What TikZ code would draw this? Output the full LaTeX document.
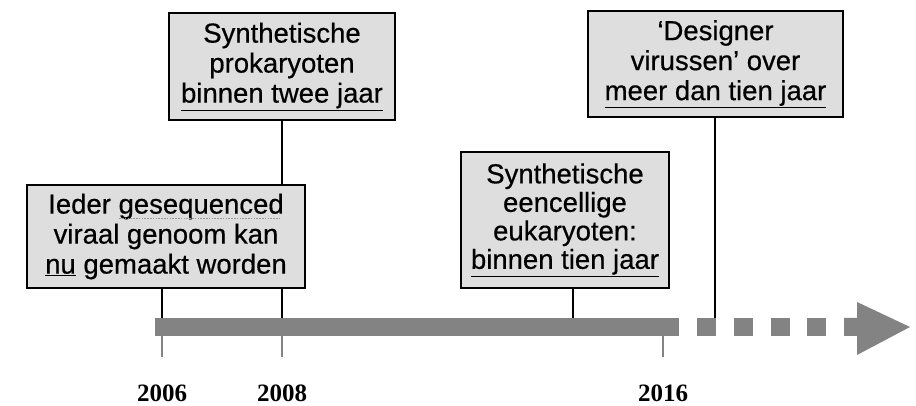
\documentclass[tikz,border=0pt]{standalone}
\usepackage{fontspec}
\setmainfont{Liberation Sans}
\newfontfamily\boxfont{Liberation Sans}[UprightFeatures={FakeBold=0.5}]
\newfontfamily\yearfont{Liberation Serif}
\definecolor{boxfill}{RGB}{222,222,222}
\definecolor{barfill}{RGB}{131,131,131}
\newsavebox\spellbox
\newcommand\spellline[1]{\sbox\spellbox{#1}\rlap{\usebox\spellbox}%
  \raisebox{-0.2em}{\textcolor{gray!80}{\leaders\hbox to 2.8pt{\hss\rule{1.6pt}{1.1pt}\hss}\hskip\wd\spellbox}}}
\newcommand\uline[1]{\underline{#1}}
\tikzset{
  eventbox/.style={draw=black, line width=2pt, fill=boxfill, align=center,
    inner sep=0pt, font=\boxfont\fontsize{27.5}{30}\selectfont},
  link/.style={draw=black, line width=2.6pt},
  tick/.style={draw=barfill, line width=2.2pt},
  year/.style={anchor=base, font=\yearfont\bfseries\fontsize{25}{25}\selectfont}
}
\begin{document}
\begin{tikzpicture}[x=1pt,y=1pt]
\useasboundingbox (0,0) rectangle (916,406);
% time bar
\fill[barfill] (155,70) rectangle (679,88);
\foreach \x in {697,734,771,807}{
  \fill[barfill] (\x,70) rectangle (\x+18.5,88);
}
\fill[barfill] (844,70) -- (857,70) -- (857,51) -- (910,79) -- (857,104) -- (857,88) -- (844,88) -- cycle;
% years
\foreach \x/\yr in {162/2006,282/2008,663/2016}{
  \coordinate (t\yr) at (\x,70);
  \draw[tick] (t\yr) -- (\x,49);
  \node[year] (y\yr) at (\x,4){\yr};
}
\coordinate (m3) at (573,88);
\coordinate (m4) at (715,88);
% events
\node[eventbox, minimum width=278pt, minimum height=103pt] (viraal) at (166,169.5)
  {Ieder \spellline{gesequenced}\\viraal genoom kan\\\uline{nu} gemaakt worden};
\node[eventbox, minimum width=226pt, minimum height=107pt] (prok) at (282,339.5)
  {Synthetische\\prokaryoten\\\uline{binnen twee jaar}};
\node[eventbox, minimum width=208pt, minimum height=136pt,
  font=\boxfont\fontsize{27.5}{28.5}\selectfont] (euk) at (565,186)
  {Synthetische\\eencellige\\eukaryoten:\\\uline{binnen tien jaar}};
\node[eventbox, minimum width=255pt, minimum height=106pt] (virus) at (715.5,342)
  {‘Designer\\virussen’ over\\\uline{meer dan tien jaar}};
% links
\draw[link] (prok.south) -- (prok.south |- viraal.north);
\draw[link] (viraal.south -| t2006) -- (t2006 |- m3);
\draw[link] (viraal.south -| t2008) -- (t2008 |- m3);
\draw[link] (euk.south -| m3) -- (m3);
\draw[link] (virus.south -| m4) -- (m4);
\end{tikzpicture}
\end{document}
